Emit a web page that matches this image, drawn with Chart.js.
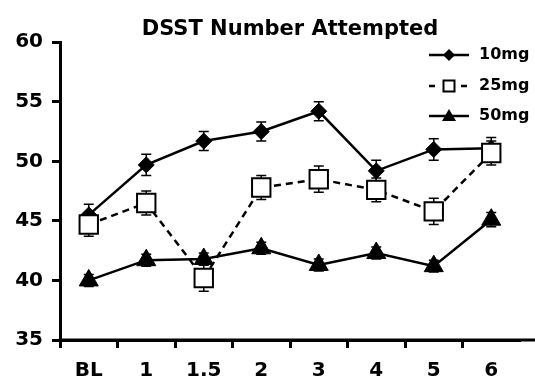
<!DOCTYPE html>
<html>
<head>
<meta charset="utf-8">
<script src="https://cdn.jsdelivr.net/npm/chart.js@4/dist/chart.umd.min.js"></script>
<style>
  body { margin: 0; background: #fff; }
  #wrap { width: 535px; height: 380px; }
</style>
</head>
<body>
<div id="wrap"><canvas id="dsstChart"></canvas></div>
<script>
// Time points (hours after dose)
const timeLabels = ['BL', '1', '1.5', '2', '3', '4', '5', '6'];

// Mean values
const dose10 = [45.5, 49.7, 51.7, 52.5, 54.2, 49.2, 51.0, 51.1];
const dose25 = [44.7, 46.5, 40.2, 47.8, 48.5, 47.6, 45.8, 50.7];
const dose50 = [40.0, 41.7, 41.8, 42.7, 41.3, 42.3, 41.2, 45.1];

// Error bar half-lengths (SEM)
const err10 = [0.9, 0.9, 0.8, 0.8, 0.8, 0.9, 0.9, 0.9];
const err25 = [1.0, 1.0, 1.1, 1.0, 1.1, 1.0, 1.1, 1.0];
const err50 = [0.5, 0.5, 0.5, 0.5, 0.5, 0.5, 0.5, 0.6];

const yTicks = [35, 40, 45, 50, 55, 60];

const FONT = 'DejaVu Sans';

// Draws the error bars under the markers
const errorBars = {
    id: 'errorBars',
    beforeDatasetsDraw(chart) {
        const ctx = chart.ctx;
        const yScale = chart.scales.y;
        ctx.save();
        ctx.strokeStyle = '#000';
        ctx.lineWidth = 1.5;
        chart.data.datasets.forEach((ds, i) => {
            const meta = chart.getDatasetMeta(i);
            meta.data.forEach((pt, j) => {
                const v = ds.data[j];
                const e = ds.errors[j];
                const top = yScale.getPixelForValue(v + e);
                const bot = yScale.getPixelForValue(v - e);
                ctx.beginPath();
                ctx.moveTo(pt.x, top);
                ctx.lineTo(pt.x, bot);
                ctx.moveTo(pt.x - 5, top);
                ctx.lineTo(pt.x + 5, top);
                ctx.moveTo(pt.x - 5, bot);
                ctx.lineTo(pt.x + 5, bot);
                ctx.stroke();
            });
        });
        ctx.restore();
    }
};

// Legend in the top-right corner plus the x axis running to the edge
const customLegend = {
    id: 'customLegend',
    afterDraw(chart) {
        const ctx = chart.ctx;
        const area = chart.chartArea;
        ctx.save();

        // x axis line, all the way to the right edge
        ctx.strokeStyle = '#000';
        ctx.lineWidth = 3;
        ctx.setLineDash([]);
        ctx.beginPath();
        ctx.moveTo(area.left - 1.5, area.bottom);
        ctx.lineTo(chart.width, area.bottom);
        ctx.stroke();

        const items = [
            { label: '10mg', shape: 'diamond', dash: [], y: 55 },
            { label: '25mg', shape: 'square', dash: [6, 10], y: 86 },
            { label: '50mg', shape: 'triangle', dash: [], y: 116 }
        ];
        const x0 = 429, x1 = 469, cx = 449;
        items.forEach(item => {
            ctx.lineWidth = 2.5;
            ctx.setLineDash(item.dash);
            ctx.beginPath();
            ctx.moveTo(x0, item.y);
            ctx.lineTo(x1, item.y);
            ctx.stroke();
            ctx.setLineDash([]);

            ctx.beginPath();
            if (item.shape === 'diamond') {
                ctx.moveTo(cx - 6, item.y);
                ctx.lineTo(cx, item.y - 6);
                ctx.lineTo(cx + 6, item.y);
                ctx.lineTo(cx, item.y + 6);
                ctx.closePath();
                ctx.fillStyle = '#000';
                ctx.fill();
            } else if (item.shape === 'square') {
                ctx.rect(cx - 5.5, item.y - 5.5, 11, 11);
                ctx.fillStyle = '#fff';
                ctx.fill();
                ctx.lineWidth = 2;
                ctx.stroke();
            } else {
                ctx.moveTo(cx, item.y - 7);
                ctx.lineTo(cx + 7, item.y + 5);
                ctx.lineTo(cx - 7, item.y + 5);
                ctx.closePath();
                ctx.fillStyle = '#000';
                ctx.fill();
            }

            ctx.fillStyle = '#000';
            ctx.font = 'bold 16px "' + FONT + '"';
            ctx.textAlign = 'left';
            ctx.textBaseline = 'middle';
            ctx.fillText(item.label, 479, item.y);
        });
        ctx.restore();
    }
};

const ctx = document.getElementById('dsstChart').getContext('2d');
const dsstChart = new Chart(ctx, {
    type: 'line',
    data: {
        labels: timeLabels,
        datasets: [
            {
                label: '10mg',
                data: dose10,
                errors: err10,
                borderColor: '#000',
                borderWidth: 2.5,
                pointStyle: 'rectRot',
                pointRadius: 8,
                pointBackgroundColor: '#000',
                pointBorderColor: '#000',
                pointBorderWidth: 1,
                order: 1
            },
            {
                label: '25mg',
                data: dose25,
                errors: err25,
                borderColor: '#000',
                borderWidth: 2.5,
                borderDash: [7, 5],
                pointStyle: 'rect',
                pointRadius: 13,
                pointBackgroundColor: '#fff',
                pointBorderColor: '#000',
                pointBorderWidth: 2,
                order: 0
            },
            {
                label: '50mg',
                data: dose50,
                errors: err50,
                borderColor: '#000',
                borderWidth: 2.5,
                pointStyle: 'triangle',
                pointRadius: 11,
                pointBackgroundColor: '#000',
                pointBorderColor: '#000',
                pointBorderWidth: 1,
                order: 2
            }
        ]
    },
    options: {
        responsive: true,
        maintainAspectRatio: false,
        animation: false,
        layout: { padding: { left: 0, right: 9, top: 0, bottom: 0 } },
        plugins: {
            legend: { display: false },
            tooltip: { enabled: false },
            title: {
                display: true,
                text: 'DSST Number Attempted',
                color: '#000',
                fullSize: false,
                font: { family: FONT, size: 21, weight: 'bold', lineHeight: 1.2 },
                padding: { top: 17, bottom: 0 }
            }
        },
        scales: {
            x: {
                offset: true,
                afterFit(scale) { scale.height = 40; },
                border: { display: true, color: '#000', width: 3 },
                grid: {
                    offset: true,
                    drawOnChartArea: false,
                    drawTicks: true,
                    tickLength: 8,
                    tickWidth: 3,
                    // no tick mark after the last category
                    color: c => c.type === 'tick' ? '#000' : 'rgba(0,0,0,0)'
                },
                ticks: {
                    color: '#000',
                    padding: 11,
                    font: { family: FONT, size: 20, weight: 'bold' }
                }
            },
            y: {
                min: 35,
                max: 60,
                afterFit(scale) { scale.width = 60; },
                afterBuildTicks(scale) {
                    scale.ticks = yTicks.map(v => ({ value: v }));
                },
                border: { display: true, color: '#000', width: 3 },
                grid: {
                    drawOnChartArea: false,
                    drawTicks: true,
                    tickLength: 8,
                    tickWidth: 3,
                    color: '#000'
                },
                ticks: {
                    color: '#000',
                    padding: 9,
                    font: { family: FONT, size: 20, weight: 'bold' }
                }
            }
        }
    },
    plugins: [errorBars, customLegend]
});
</script>
</body>
</html>
